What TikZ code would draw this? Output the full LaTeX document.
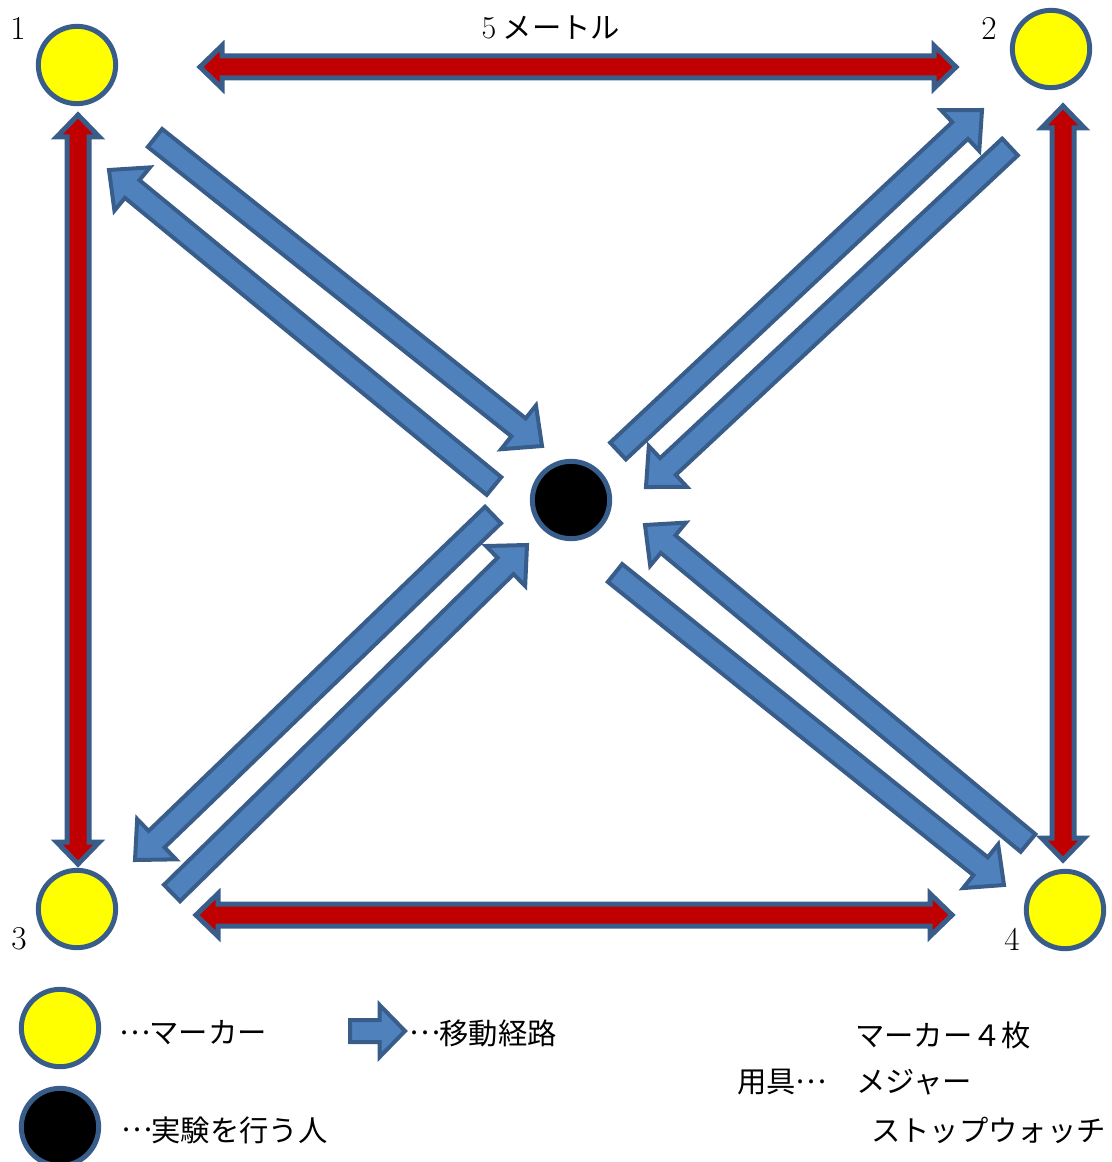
\documentclass[tikz,border=0pt]{standalone}
\usepackage{fontspec}
\newfontfamily\jp{Noto Sans CJK JP}
\usetikzlibrary{calc}
\definecolor{markeryellow}{HTML}{FFFF00}
\definecolor{edgeblue}{HTML}{385D8A}
\definecolor{pathblue}{HTML}{4F81BD}
\definecolor{arrowred}{HTML}{C00000}
% full-width, mid-height ellipsis
\newcommand{\midellip}{\makebox[1em]{\raisebox{.32em}{…}}}

% block arrow: style, tail, tip, shaft half width, head half width, head length
\newcommand{\blockarrow}[6]{%
  \coordinate (hb) at ($(#3)!#6!(#2)$);
  \draw[#1] ($(#2)!#4!90:(#3)$) -- ($(hb)!#4!90:(#3)$) -- ($(hb)!#5!90:(#3)$)
    -- (#3) -- ($(hb)!#5!-90:(#3)$) -- ($(hb)!#4!-90:(#3)$) -- ($(#2)!#4!-90:(#3)$) -- cycle;
}
% double block arrow: style, end, end, shaft half width, head half width, head length
\newcommand{\dblarrow}[6]{%
  \coordinate (ha) at ($(#2)!#6!(#3)$);
  \coordinate (hb) at ($(#3)!#6!(#2)$);
  \draw[#1] (#2) -- ($(ha)!#5!90:(#3)$) -- ($(ha)!#4!90:(#3)$) -- ($(hb)!#4!90:(#3)$)
    -- ($(hb)!#5!90:(#3)$) -- (#3) -- ($(hb)!#5!-90:(#3)$) -- ($(hb)!#4!-90:(#3)$)
    -- ($(ha)!#4!-90:(#3)$) -- ($(ha)!#5!-90:(#3)$) -- cycle;
}

\begin{document}
\begin{tikzpicture}[x=0.75pt, y=-0.75pt,
  marker/.style={circle, draw=edgeblue, fill=markeryellow, line width=3.75pt,
                 minimum size=58pt, inner sep=0pt},
  subject/.style={marker, fill=black},
  redarrow/.style={draw=edgeblue, fill=arrowred, line width=3.75pt},
  bluearrow/.style={draw=edgeblue, fill=pathblue, line width=3pt},
  num/.style={font=\fontsize{25}{30}\selectfont, inner sep=0pt},
  note/.style={font=\jp\fontsize{22}{26}\selectfont, inner sep=0pt, anchor=west}]
  \useasboundingbox (0,0) rectangle (1111,1162);
  % Markers and person
  \node[marker] (m1) at (77,65) {};
  \node[marker] (m2) at (1051,49) {};
  \node[marker] (m3) at (77,909) {};
  \node[marker] (m4) at (1065,910) {};
  \node[subject] (person) at (571,500) {};
  % Marker numbers
  \node[num] (n1) at (18,28) {1};
  \node[num] (n2) at (989,28) {2};
  \node[num] (n3) at (19,939) {3};
  \node[num] (n4) at (1012,939) {4};
  \node[note, anchor=center] (dist) at (551,28) {{\rmfamily\fontsize{24}{28}\selectfont 5} メートル};
  % Red double arrows (sides)
  \coordinate (top1) at (200,67);  \coordinate (top2) at (956,67);
  \coordinate (lft1) at (78,115);  \coordinate (lft2) at (78,864);
  \coordinate (rgt1) at (1063,106); \coordinate (rgt2) at (1063,860);
  \coordinate (bot1) at (196,915); \coordinate (bot2) at (952,915);
  \dblarrow{redarrow}{top1}{top2}{8.25pt}{16pt}{16.5pt}
  \dblarrow{redarrow}{lft1}{lft2}{8.25pt}{16pt}{16.5pt}
  \dblarrow{redarrow}{rgt1}{rgt2}{8.25pt}{16pt}{16.5pt}
  \dblarrow{redarrow}{bot1}{bot2}{8.25pt}{16pt}{16.5pt}
  % Blue movement arrows
  \coordinate (a1s) at (155,138);  \coordinate (a1e) at (542,446);
  \coordinate (a2s) at (494,486);  \coordinate (a2e) at (109,170);
  \coordinate (a3s) at (618,451);  \coordinate (a3e) at (982,110);
  \coordinate (a4s) at (1010,147); \coordinate (a4e) at (646,487);
  \coordinate (a5s) at (493,515);  \coordinate (a5e) at (135,860);
  \coordinate (a6s) at (172,893);  \coordinate (a6e) at (527,545);
  \coordinate (a7s) at (1028,843); \coordinate (a7e) at (645,525);
  \coordinate (a8s) at (615,573);  \coordinate (a8e) at (1004,885);
  \foreach \i in {1,...,8}{
    \blockarrow{bluearrow}{a\i s}{a\i e}{8.6pt}{21pt}{22.5pt}
  }
  % Legend
  \node[marker] (keym) at (60,1028) {};
  \node[subject] (keyp) at (60,1127) {};
  \coordinate (keya1) at (350,1031); \coordinate (keya2) at (405,1031);
  \blockarrow{bluearrow}{keya1}{keya2}{8.25pt}{19.5pt}{19pt}
  \node[note] (keymt) at (120,1033) {\midellip マーカー};
  \node[note] (keyat) at (410,1033) {\midellip 移動経路};
  \node[note] (keypt) at (122,1130) {\midellip 実験を行う人};
  % Equipment
  \node[note] (eq1) at (855,1035) {マーカー４枚};
  \node[note] (eq0) at (737,1082) {用具\midellip};
  \node[note] (eq2) at (856,1082) {メジャー};
  \node[note] (eq3) at (871,1130) {ストップウォッチ};
\end{tikzpicture}
\end{document}
